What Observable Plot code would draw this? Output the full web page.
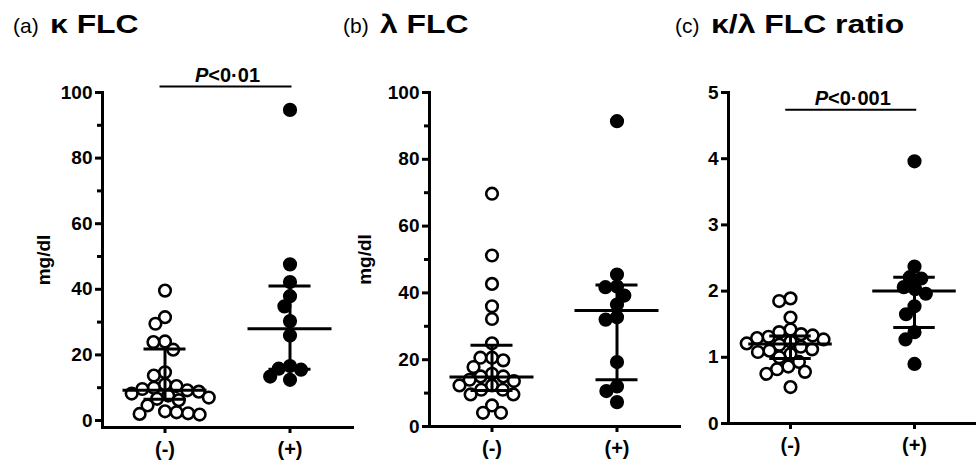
<!DOCTYPE html>
<html><head><meta charset="utf-8">
<script src="https://cdn.jsdelivr.net/npm/d3@7"></script>
<script src="https://cdn.jsdelivr.net/npm/@observablehq/plot@0.6"></script>
<style>
body{margin:0;background:#fff;font-family:Arial,"Liberation Sans",sans-serif;}
#chart{position:relative;width:976px;height:469px;overflow:hidden;background:#fff;}
.title{position:absolute;top:8px;white-space:nowrap;color:#000;line-height:32px;}
.title .tag{font-size:21px;font-weight:normal;vertical-align:baseline;}
.title .name{display:inline-block;font-size:25.5px;font-weight:bold;margin-left:11px;transform:scaleX(1.25);transform-origin:0 50%;}
</style></head><body><div id="chart"></div>
<script>
// ---- data ----
const groups = ["(-)", "(+)"];
const panelTags = ["(a)", "(b)", "(c)"];
const panelNames = ["κ FLC", "λ FLC", "κ/λ FLC ratio"];
const yLabels = ["mg/dl", "mg/dl", null];
const pLabels = ["P<0·01", null, "P<0·001"];
const pLevels = [101.8, null, 4.74];

const countTicks = [0, 20, 40, 60, 80, 100];
const countMinorTicks = [10, 30, 50, 70, 90];
const ratioTicks = [0, 1, 2, 3, 4, 5];

const kappaNeg = [39.6, 31.5, 29.5, 24.1, 23.9, 21.6, 14.7, 13.7, 11.0, 10.5, 10.0, 9.6, 9.2, 8.8, 8.2, 7.6, 7.0, 6.6, 6.2, 4.6, 2.8, 2.5, 2.2, 2.0, 1.8];
const kappaPos = [94.7, 47.6, 42.2, 37.9, 34.8, 30.3, 25.9, 16.6, 15.8, 15.5, 13.4, 12.4];
const kappaMedian = [9.2, 28.0];
const kappaQ1 = [6.5, 15.6];
const kappaQ3 = [21.8, 41.0];

const lambdaNeg = [69.7, 51.2, 42.7, 36.0, 32.2, 24.9, 20.6, 20.6, 19.8, 17.8, 15.8, 15.0, 15.0, 14.0, 13.6, 12.3, 12.3, 11.0, 11.0, 9.6, 9.6, 6.3, 4.1, 4.1];
const lambdaPos = [91.4, 45.5, 41.9, 41.7, 39.2, 36.5, 32.7, 32.0, 19.3, 12.0, 10.6, 7.3];
const lambdaMedian = [14.8, 34.7];
const lambdaQ1 = [10.8, 14.0];
const lambdaQ3 = [24.3, 42.4];

const ratioNeg = [1.89, 1.85, 1.60, 1.42, 1.38, 1.35, 1.33, 1.31, 1.29, 1.27, 1.24, 1.21, 1.19, 1.16, 1.12, 1.10, 1.08, 1.05, 1.00, 0.93, 0.86, 0.82, 0.78, 0.75, 0.55];
const ratioPos = [3.96, 2.37, 2.21, 2.19, 2.06, 2.03, 1.96, 1.77, 1.65, 1.38, 1.27, 0.90];
const ratioMedian = [1.2, 2.0];
const ratioQ1 = [0.98, 1.45];
const ratioQ3 = [1.32, 2.21];

// ---- layout ----
const FONT = "Arial, 'Liberation Sans', sans-serif";
const layout = [
  {left: 0,   width: 354, marginLeft: 102, marginRight: 2, marginBottom: 42, insetBottom: 7, titleLeft: 13, labelOffset: 66},
  {left: 354, width: 327, marginLeft: 75,  marginRight: 2, marginBottom: 43, insetBottom: 0, titleLeft: 343, labelOffset: 72},
  {left: 681, width: 295, marginLeft: 46,  marginRight: 0, marginBottom: 46, insetBottom: 0, titleLeft: 675, labelOffset: 40}
];
const medianHalf = 42, capHalf = 21;

const chart = document.getElementById("chart");

function makePanel(i, neg, pos, med, q1, q3, domain, ticks, minor) {
  const L = layout[i];
  const points = [
    ...neg.map(v => ({group: groups[0], value: v})),
    ...pos.map(v => ({group: groups[1], value: v}))
  ];
  const stats = groups.map((g, j) => ({group: g, median: med[j], q1: q1[j], q3: q3[j]}));
  const frameW = L.width - L.marginLeft - L.marginRight;
  const bw = frameW / groups.length;
  const ann = pLabels[i] ? [{group: groups[0], label: pLabels[i], y: pLevels[i]}] : [];

  const svg = Plot.plot({
    width: L.width, height: 424,
    marginLeft: L.marginLeft, marginRight: L.marginRight, marginTop: 47, marginBottom: L.marginBottom,
    fx: {domain: groups, padding: 0, label: null},
    y: {domain, insetBottom: L.insetBottom, label: null},
    style: {fontFamily: FONT, background: "transparent", color: "black", overflow: "visible"},
    marks: [
      Plot.frame({anchor: "left", facetAnchor: "left", strokeWidth: 3}),
      Plot.frame({anchor: "bottom", strokeWidth: 3}),
      Plot.axisY({ticks, tickSize: 7, tickPadding: 3, strokeWidth: 3, tickFormat: d3.format("~g"),
        fontSize: 19, fontWeight: "bold", label: yLabels[i], labelArrow: "none",
        labelAnchor: "center", labelOffset: L.labelOffset}),
      minor ? Plot.axisY({ticks: minor, tickSize: 5, strokeWidth: 3, text: null, label: null}) : null,
      Plot.axisFx({anchor: "bottom", tickSize: 6, tickPadding: 8, strokeWidth: 3, fontSize: 20, fontWeight: "bold", label: null}),
      Plot.dot(points, Plot.dodgeX({anchor: "middle", padding: 0}, {
        y: "value", fx: "group", r: 5.8,
        fill: d => d.group === groups[1] ? "black" : "white",
        stroke: "black", strokeWidth: 2.6
      })),
      Plot.ruleX(stats, {x: null, y1: "q1", y2: "q3", fx: "group", strokeWidth: 3}),
      Plot.tickY(stats, {y: "median", fx: "group", insetLeft: bw / 2 - medianHalf, insetRight: bw / 2 - medianHalf, strokeWidth: 3}),
      Plot.tickY(stats, {y: "q1", fx: "group", insetLeft: bw / 2 - capHalf, insetRight: bw / 2 - capHalf, strokeWidth: 3}),
      Plot.tickY(stats, {y: "q3", fx: "group", insetLeft: bw / 2 - capHalf, insetRight: bw / 2 - capHalf, strokeWidth: 3}),
      Plot.ruleY(ann, {y: "y", fx: "group", insetLeft: bw / 2 - 5, insetRight: -bw / 2 - 2, strokeWidth: 2}),
      Plot.text(ann, {y: "y", text: "label", fx: "group", dx: bw / 2, lineAnchor: "bottom", dy: -5,
        fontSize: 20, fontWeight: "bold"})
    ]
  });
  d3.select(svg).selectAll("text").each(function () {
    const t = this.textContent;
    if (!pLabels.includes(t)) return;
    this.textContent = "";
    d3.select(this).append("tspan").attr("font-style", "italic").text(t.slice(0, 1));
    d3.select(this).append("tspan").text(t.slice(1));
  });
  svg.style.left = L.left + "px";
  svg.style.top = "45px";
  svg.style.position = "absolute";
  svg.style.maxWidth = "none";
  chart.appendChild(svg);

  const title = document.createElement("div");
  title.className = "title";
  title.style.left = L.titleLeft + "px";
  const tag = document.createElement("span"); tag.className = "tag"; tag.textContent = panelTags[i];
  const name = document.createElement("span"); name.className = "name"; name.textContent = panelNames[i];
  title.appendChild(tag); title.appendChild(name);
  chart.appendChild(title);
}

makePanel(0, kappaNeg, kappaPos, kappaMedian, kappaQ1, kappaQ3, [0, 100], countTicks, countMinorTicks);
makePanel(1, lambdaNeg, lambdaPos, lambdaMedian, lambdaQ1, lambdaQ3, [0, 100], countTicks, countMinorTicks);
makePanel(2, ratioNeg, ratioPos, ratioMedian, ratioQ1, ratioQ3, [0, 5], ratioTicks, null);
</script></body></html>
